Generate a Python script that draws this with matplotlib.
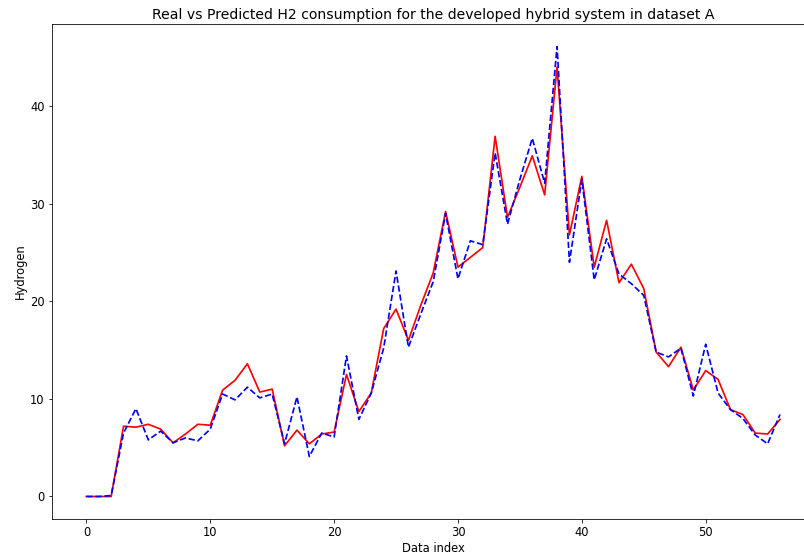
import numpy as np
import matplotlib
matplotlib.use('Agg')
import matplotlib.pyplot as plt

# Real vs predicted H2 consumption
real = [0, 0, 0, 7.2, 7.1, 7.4, 6.9, 5.5, 6.4, 7.4,
        7.3, 10.9, 11.9, 13.6, 10.7, 11.0, 5.2, 6.8, 5.4, 6.4,
        6.6, 12.5, 8.7, 10.6, 17.2, 19.2, 16.0, 19.6, 22.9, 29.2,
        23.5, 24.5, 25.5, 36.9, 28.6, 31.7, 34.9, 30.9, 44.0, 26.8,
        32.8, 23.5, 28.3, 21.9, 23.8, 21.3, 14.8, 13.3, 15.3, 10.9,
        12.9, 12.0, 8.9, 8.4, 6.5, 6.4, 7.9]
predicted = [0, 0, 0.1, 6.5, 9.0, 5.8, 6.7, 5.5, 6.0, 5.7,
             6.9, 10.5, 9.9, 11.2, 10.1, 10.5, 5.4, 10.2, 4.1, 6.5,
             6.1, 14.4, 7.9, 10.6, 15.2, 23.1, 15.3, 18.7, 22.0, 29.0,
             22.3, 26.2, 25.8, 35.2, 27.9, 32.5, 36.7, 32.1, 46.1, 24.0,
             32.5, 22.2, 26.4, 22.8, 21.8, 20.6, 14.8, 14.3, 15.2, 10.3,
             15.6, 10.6, 8.9, 8.0, 6.3, 5.4, 8.4]
idx = np.arange(len(real))

fig = plt.figure(figsize=(804 / 72, 558 / 72), dpi=72)
# the reference is cropped: the right side of the frame falls outside the image
ax = fig.add_axes([0.0643, 0.0699, 0.949, 0.887])
ax.plot(idx, real, 'r-', linewidth=1.7)
ax.plot(idx, predicted, 'b--', linewidth=1.7)
ax.spines['right'].set_visible(False)
ax.set_title('Real vs Predicted H2 consumption for the developed hybrid system in dataset A',
             fontsize=14, pad=5)
ax.set_xlabel('Data index', fontsize=11.5, labelpad=3)
ax.set_ylabel('Hydrogen', fontsize=11.5, labelpad=3)
ax.tick_params(labelsize=11.5)

plt.savefig('out.png', dpi=72)
